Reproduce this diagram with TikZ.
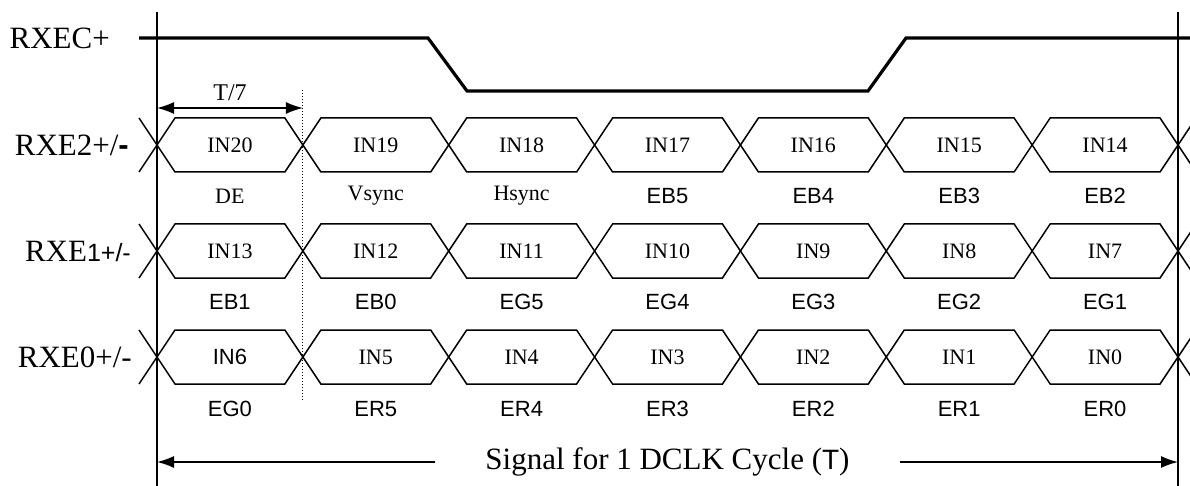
\documentclass[tikz,border=0pt]{standalone}
\usepackage{fontspec}
\setmainfont{Liberation Serif}
\setsansfont{Liberation Sans}
\usetikzlibrary{arrows.meta}
\tikzset{
  bus/.style={line width=1.5pt, line join=miter},
  clk/.style={line width=3.2pt},
  big/.style={font=\fontsize{31}{31}\selectfont, inner sep=0pt},
  lab/.style={font=\fontsize{22}{22}\selectfont, inner sep=0pt},
  tip/.style={-{Latex[length=17pt,width=12pt]}, line width=1.5pt},
  tips/.style={{Latex[length=17pt,width=12pt]}-{Latex[length=17pt,width=12pt]}, line width=1.5pt},
}
\begin{document}
\begin{tikzpicture}[x=1pt,y=-1pt]
\useasboundingbox (0,0) rectangle (1190,486);
% Vertical limits of one cycle
\draw[bus] (157,12) -- (157,486);
\draw[bus] (1178,12) -- (1178,486);
% Clock RXEC+
\node[big, anchor=east] (clkname) at (110,38) {RXEC+};
\draw[clk] (139,38) -- (428,38) -- (467,91) -- (868,91) -- (906,38) -- (1190,38);
% Signal names
\node[big, anchor=east] (rxetwo) at (129,145) {RXE2+/{\sffamily\bfseries -}};
\node[big, anchor=east] (rxeone) at (131,251) {RXE{\sffamily\fontsize{25}{25}\selectfont 1+/-}};
\node[big, anchor=east] (rxezero) at (132,357) {RXE0+/-};
% Data eyes, 7 bits per row
\foreach \cy in {145,251,357} {
  \draw[bus] (139,\cy-27) -- (157,\cy) -- (139,\cy+27);
  \draw[bus] (1196,\cy-27) -- (1178,\cy) -- (1196,\cy+27);
  \foreach \k in {0,...,6}
    \draw[bus] ({157+\k*145.857},\cy) -- ({175+\k*145.857},\cy-27)
      -- ({139+(\k+1)*145.857},\cy-27) -- ({157+(\k+1)*145.857},\cy)
      -- ({139+(\k+1)*145.857},\cy+27) -- ({175+\k*145.857},\cy+27) -- cycle;
}
% Bit names
\foreach \t [count=\k from 0] in {IN20,IN19,IN18,IN17,IN16,IN15,IN14}
  \node[lab] (two-\k) at ({229.9+\k*145.857},145) {\t};
\foreach \t [count=\k from 0] in {DE,Vsync,Hsync,\sffamily EB5,\sffamily EB4,\sffamily EB3,\sffamily EB2}
  \node[lab] (twob-\k) at ({229.9+\k*145.857},196) {\t};
\foreach \t [count=\k from 0] in {IN13,IN12,IN11,IN10,IN9,IN8,IN7}
  \node[lab] (one-\k) at ({229.9+\k*145.857},251) {\t};
\foreach \t [count=\k from 0] in {EB1,EB0,EG5,EG4,EG3,EG2,EG1}
  \node[lab, font=\sffamily\fontsize{22}{22}\selectfont] (oneb-\k) at ({229.9+\k*145.857},302) {\t};
\foreach \t [count=\k from 0] in {\sffamily IN6,IN5,IN4,IN3,IN2,IN1,IN0}
  \node[lab] (zero-\k) at ({229.9+\k*145.857},357) {\t};
\foreach \t [count=\k from 0] in {EG0,ER5,ER4,ER3,ER2,ER1,ER0}
  \node[lab, font=\sffamily\fontsize{22}{22}\selectfont] (zerob-\k) at ({229.9+\k*145.857},409) {\t};
% One bit time
\draw[dotted, line width=1pt] (302.9,90) -- (302.9,400);
\coordinate (bitl) at (157,108);
\coordinate (bitr) at (302.9,108);
\draw[tips] (bitl) -- (bitr);
\node[lab, font=\fontsize{24}{24}\selectfont] (bitname) at (230,93) {T/7};
% Full cycle
\node[big, inner xsep=50pt] (cycle) at (667.5,462) {Signal for 1 DCLK Cycle ({\sffamily\fontsize{28}{28}\selectfont T})};
\coordinate (cyl) at (157,462);
\coordinate (cyr) at (1178,462);
\draw[tip] (cycle.west) -- (cyl);
\draw[tip] (cycle.east) -- (cyr);
\end{tikzpicture}
\end{document}
